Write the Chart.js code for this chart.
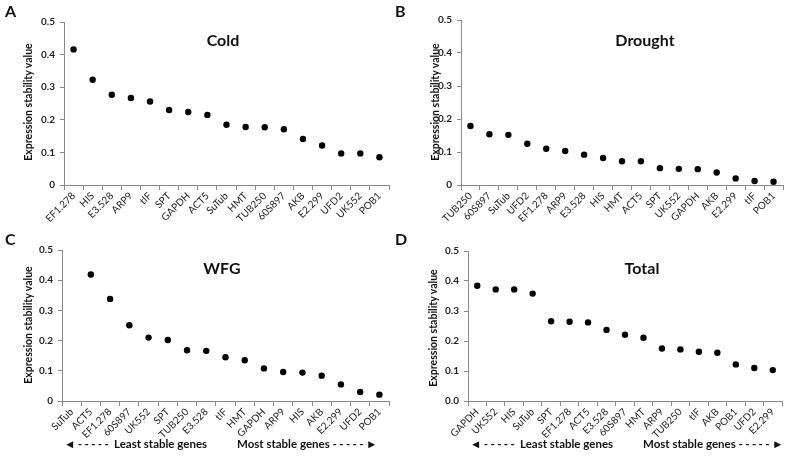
<!DOCTYPE html>
<html>
<head>
<meta charset="utf-8">
<script src="https://cdn.jsdelivr.net/npm/chart.js@4"></script>
<style>
  body { margin: 0; background: #fff; font-family: Lato, "Open Sans", sans-serif; }
  #wrap { position: relative; width: 787px; height: 459px; overflow: hidden; }
  canvas { position: absolute; }
  .letter, .ttl, .cap, .ytl { position: absolute; font-weight: bold; color: #111; white-space: nowrap; }
  .letter { font-size: 16px; }
  .ttl { font-size: 16px; transform: translate(-50%, -50%); }
  .ytl { font-size: 10.5px; transform: translate(-50%, -50%) rotate(-90deg); }
  .cap { font-size: 11.5px; transform: translateY(-50%); }
  .dash { letter-spacing: 2.4px; }
</style>
</head>
<body>
<div id="wrap">
  <canvas id="cA" style="left:0;top:0" width="393" height="230"></canvas>
  <canvas id="cB" style="left:393px;top:0" width="394" height="230"></canvas>
  <canvas id="cC" style="left:0;top:230px" width="393" height="229"></canvas>
  <canvas id="cD" style="left:393px;top:230px" width="394" height="229"></canvas>

  <div class="letter" style="left:5px;top:1px">A</div>
  <div class="letter" style="left:395px;top:1px">B</div>
  <div class="letter" style="left:5px;top:229px">C</div>
  <div class="letter" style="left:395px;top:229px">D</div>

  <div class="ttl" style="left:223px;top:39px">Cold</div>
  <div class="ttl" style="left:645px;top:39px">Drought</div>
  <div class="ttl" style="left:222px;top:267px">WFG</div>
  <div class="ttl" style="left:642px;top:267px">Total</div>

  <div class="ytl" style="left:28px;top:102px">Expression stability value</div>
  <div class="ytl" style="left:435px;top:102px">Expression stability value</div>
  <div class="ytl" style="left:28px;top:325px">Expression stability value</div>
  <div class="ytl" style="left:433px;top:328px">Expression stability value</div>

  <div class="cap" style="left:64px;top:443px"><span class="dash">&#9668;-----</span> Least stable genes</div>
  <div class="cap" style="left:237px;top:443px">Most stable genes <span class="dash">-----&#9658;</span></div>
  <div class="cap" style="left:470px;top:443px"><span class="dash">&#9668;-----</span> Least stable genes</div>
  <div class="cap" style="left:643px;top:443px">Most stable genes <span class="dash">-----&#9658;</span></div>
</div>
<script>
// Panel data
const coldGenes = ["EF1.278", "HIS", "E3.528", "ARP9", "tIF", "SPT", "GAPDH", "ACT5", "SuTub", "HMT", "TUB250", "60S897", "AKB", "E2.299", "UFD2", "UK552", "POB1"];
const coldValues = [0.416, 0.323, 0.277, 0.267, 0.256, 0.230, 0.224, 0.215, 0.185, 0.178, 0.177, 0.171, 0.141, 0.121, 0.097, 0.097, 0.085];

const droughtGenes = ["TUB250", "60S897", "SuTub", "UFD2", "EF1.278", "ARP9", "E3.528", "HIS", "HMT", "ACT5", "SPT", "UK552", "GAPDH", "AKB", "E2.299", "tIF", "POB1"];
const droughtValues = [0.179, 0.154, 0.152, 0.125, 0.110, 0.103, 0.092, 0.082, 0.072, 0.072, 0.051, 0.049, 0.048, 0.038, 0.020, 0.012, 0.010];

const wfgGenes = ["SuTub", "ACT5", "EF1.278", "60S897", "UK552", "SPT", "TUB250", "E3.528", "tIF", "HMT", "GAPDH", "ARP9", "HIS", "AKB", "E2.299", "UFD2", "POB1"];
const wfgValues = [null, 0.419, 0.338, 0.251, 0.210, 0.202, 0.168, 0.166, 0.145, 0.135, 0.108, 0.096, 0.094, 0.084, 0.055, 0.030, 0.021];

const totalGenes = ["GAPDH", "UK552", "HIS", "SuTub", "SPT", "EF1.278", "ACT5", "E3.528", "60S897", "HMT", "ARP9", "TUB250", "tIF", "AKB", "POB1", "UFD2", "E2.299"];
const totalValues = [0.384, 0.372, 0.372, 0.358, 0.266, 0.264, 0.262, 0.237, 0.221, 0.211, 0.175, 0.172, 0.164, 0.161, 0.122, 0.110, 0.103];

const yTicks = [0, 0.1, 0.2, 0.3, 0.4, 0.5];

const fontFam = "Lato, 'Open Sans', sans-serif";
const axisColor = "#8a8a8a";

// build one panel; box = fixed positions inside its canvas
function makePanel(id, genes, values, box, zeroLabel) {
  const ctx = document.getElementById(id).getContext("2d");
  return new Chart(ctx, {
    type: "line",
    data: {
      labels: genes,
      datasets: [
        {
          data: values,
          showLine: false,
          pointRadius: 3.2,
          pointBackgroundColor: "#000",
          pointBorderColor: "#000",
          pointBorderWidth: 0,
        },
      ],
    },
    options: {
      responsive: false,
      animation: false,
      layout: { padding: { top: box.top, right: box.right, left: 0, bottom: 0 } },
      plugins: { legend: { display: false }, tooltip: { enabled: false } },
      scales: {
        x: {
          type: "category",
          offset: true,
          grid: {
            offset: true,
            drawOnChartArea: false,
            drawTicks: true,
            tickLength: 5,
            color: axisColor,
          },
          border: { color: axisColor, width: 1 },
          ticks: {
            autoSkip: false,
            minRotation: 45,
            maxRotation: 45,
            padding: 0,
            color: "#222",
            font: { family: fontFam, size: 10 },
          },
          afterFit: function (scale) {
            scale.height = box.xh;
          },
        },
        y: {
          min: 0,
          max: 0.5,
          afterBuildTicks: function (scale) {
            scale.ticks = yTicks.map((v) => ({ value: v }));
          },
          grid: {
            drawOnChartArea: false,
            drawTicks: true,
            tickLength: 4,
            color: axisColor,
          },
          border: { color: axisColor, width: 1 },
          ticks: {
            padding: 5,
            color: "#222",
            font: { family: fontFam, size: 10, weight: "bold" },
            callback: function (v) {
              return v === 0 ? zeroLabel : v.toFixed(1);
            },
          },
          afterFit: function (scale) {
            scale.width = box.yw;
          },
        },
      },
    },
  });
}

makePanel("cA", coldGenes, coldValues, { top: 22, right: 1, xh: 45, yw: 64 }, "0");
makePanel("cB", droughtGenes, droughtValues, { top: 20, right: 4, xh: 45, yw: 68 }, "0");
makePanel("cC", wfgGenes, wfgValues, { top: 20, right: 3, xh: 58, yw: 62 }, "0");
makePanel("cD", totalGenes, totalValues, { top: 21, right: 5, xh: 58, yw: 75 }, "0.0");
</script>
</body>
</html>
